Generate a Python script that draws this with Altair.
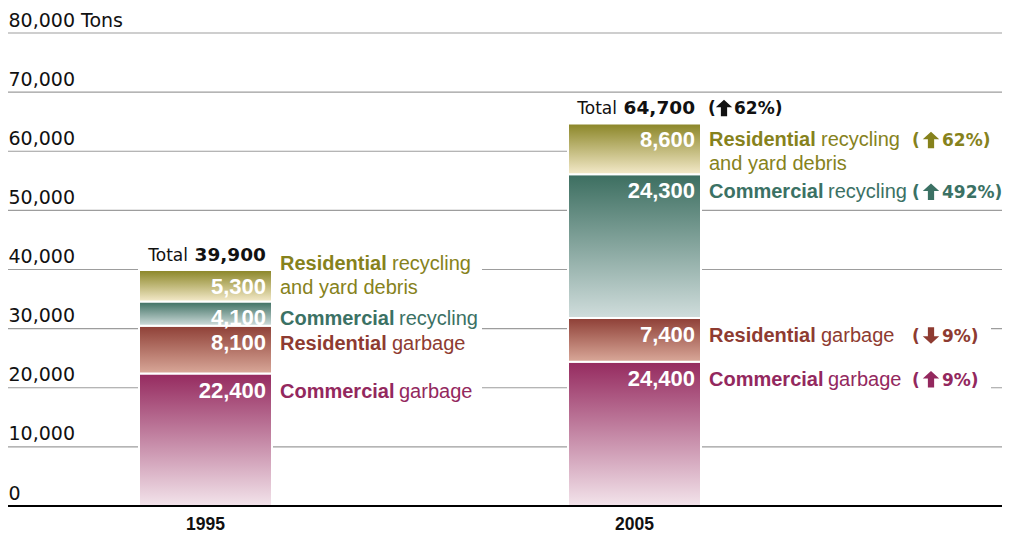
import altair as alt
import pandas as pd

# ---------------- data ----------------
years = ["1995", "2005"]
categories = [
    "Commercial garbage",
    "Residential garbage",
    "Commercial recycling",
    "Residential recycling and yard debris",
]
tons_1995 = [22400, 8100, 4100, 5300]
tons_2005 = [24400, 7400, 24300, 8600]
dir_1995 = ["", "", "", ""]
pct_1995 = ["", "", "", ""]
dir_2005 = ["up", "down", "up", "up"]
pct_2005 = ["9%", "9%", "492%", "62%"]
total_dir = ["", "up"]
total_pct = ["", "62%"]
y_ticks = [0, 10000, 20000, 30000, 40000, 50000, 60000, 70000, 80000]

# ---------------- styles ----------------
top_colors = ["#952a5f", "#8e3f36", "#3c6e60", "#8a8526"]
bottom_colors = ["#f3e4eb", "#d9a899", "#d0dddc", "#f4eaca"]
text_colors = ["#93285e", "#8e3b31", "#3b7164", "#86821c"]
OLIVE = categories[3]
ARROW_UP = "M0,-1 L1,-0.1 L0.38,-0.1 L0.38,1 L-0.38,1 L-0.38,-0.1 L-1,-0.1 Z"
ARROW_DOWN = "M0,1 L1,0.1 L0.38,0.1 L0.38,-1 L-0.38,-1 L-0.38,0.1 L-1,0.1 Z"

rows = []
for yr, vals, dirs, pcts in [("1995", tons_1995, dir_1995, pct_1995),
                             ("2005", tons_2005, dir_2005, pct_2005)]:
    for i, (c, v, d, p) in enumerate(zip(categories, vals, dirs, pcts)):
        w = c.split(" ")
        rows.append(dict(year=yr, cat=c, order=i, tons=v, dir=d, pct=p,
                         bold=w[0], rest=w[1], line2=" ".join(w[2:])))
df = pd.DataFrame(rows)
tot_df = pd.DataFrame({"year": years, "tdir": total_dir, "tpct": total_pct})

W, H = 994, 473
xscale = alt.Scale(domain=years, range=[131, 693], paddingInner=0.69, paddingOuter=0)
yscale = alt.Scale(domain=[0, 80000], nice=False, zero=True)
shape_scale = alt.Scale(domain=["up", "down"], range=[ARROW_UP, ARROW_DOWN])

xaxis = alt.Axis(title=None, domain=False, ticks=False, tickSize=0, grid=False,
                 labelPadding=23, labelBaseline="alphabetic", labelAngle=0,
                 labelFont="Liberation Sans", labelFontWeight="bold",
                 labelFontSize=17.5, labelColor="#111")
yaxis = alt.Axis(values=y_ticks, title=None, domain=False, ticks=False, tickSize=0,
                 labelAlign="left", labelBaseline="alphabetic", labelPadding=0,
                 labelOffset=-7, labelFont="DejaVu Sans", labelFontSize=19,
                 labelColor="#111", labelOverlap=False, grid=False,
                 labelExpr="datum.value === 80000 ? format(datum.value, ',') + ' Tons' : format(datum.value, ',')")


def X(bp=None):
    if bp is None:
        return alt.X("year:N", scale=xscale, axis=xaxis)
    return alt.X("year:N", scale=xscale, axis=xaxis, bandPosition=bp)


def Y(f):
    return alt.Y(f, scale=yscale, axis=yaxis)


tcolor = alt.Color("cat:N", scale=alt.Scale(domain=categories, range=text_colors), legend=None)

base = alt.Chart(df).transform_stack(
    stack="tons", groupby=["year"], as_=["y0", "y1"],
    sort=[alt.SortField("order", order="ascending")])

layers = []

# gridlines (full width)
layers.append(
    alt.Chart(pd.DataFrame({"v": y_ticks[1:]}))
    .mark_rule(color="#9d9d9d", strokeWidth=1.2)
    .encode(y=Y("v:Q"))
)

# bars with vertical gradients
for i, cat in enumerate(categories):
    grad = alt.LinearGradient(
        gradient="linear",
        stops=[alt.GradientStop(color=top_colors[i], offset=0),
               alt.GradientStop(color=bottom_colors[i], offset=1)],
        x1=1, x2=1, y1=0, y2=1)
    layers.append(
        base.transform_filter(alt.datum.cat == cat)
        .mark_bar(color=grad, stroke="white", strokeWidth=2)
        .encode(x=X(), y=Y("y0:Q"), y2="y1:Q")
    )

# baseline
layers.append(
    alt.Chart(pd.DataFrame({"v": y_ticks[:1]}))
    .mark_rule(color="#000", strokeWidth=2)
    .encode(y=Y("v:Q"))
)

# white masks behind labels (interrupt gridlines)
mask_specs = [
    ("datum.year == '1995' && datum.cat != '%s'" % OLIVE, 7, 30, 210),
    ("datum.year == '1995' && datum.cat == '%s'" % OLIVE, -17, 29, 210),
    ("datum.year == '2005' && datum.cat != '%s'" % OLIVE, 7, 30, 290),
    ("datum.year == '2005' && datum.cat == '%s'" % OLIVE, 6, 53, 305),
]
for flt, yo, y2o, x2o in mask_specs:
    layers.append(
        base.transform_filter(flt)
        .mark_rect(color="white", xOffset=1, x2Offset=x2o, yOffset=yo, y2Offset=y2o)
        .encode(x=X(1), x2=alt.X2("year", bandPosition=1), y=Y("y1:Q"), y2="y1:Q")
    )

# value labels inside bars
layers.append(
    base.mark_text(align="right", baseline="alphabetic", dx=-6, dy=24,
                   font="Liberation Sans", fontWeight="bold", fontSize=22, color="white")
    .encode(x=X(1), y=Y("y1:Q"), text=alt.Text("tons:Q", format=","))
)

# category labels
groups = [
    ("datum.cat != '%s'" % OLIVE, 24),
    ("datum.cat == '%s' && datum.year == '1995'" % OLIVE, 0),
    ("datum.cat == '%s' && datum.year == '2005'" % OLIVE, 23),
]
lab_font = "Liberation Sans"
lab_size = 20
pct_font = "DejaVu Sans"
for flt, dy in groups:
    g = base.transform_filter(flt)
    layers.append(
        g.mark_text(align="left", baseline="alphabetic", dx=8, dy=dy,
                    font=lab_font, fontWeight="bold", fontSize=lab_size)
        .encode(x=X(1), y=Y("y1:Q"), text="bold:N", color=tcolor)
    )
    for word, dx in [("Residential", 120), ("Commercial", 127)]:
        layers.append(
            g.transform_filter(alt.datum.bold == word)
            .mark_text(align="left", baseline="alphabetic", dx=dx, dy=dy,
                       font=lab_font, fontWeight="normal", fontSize=lab_size)
            .encode(x=X(1), y=Y("y1:Q"), text="rest:N", color=tcolor)
        )
    layers.append(
        g.transform_filter("datum.line2 != ''")
        .mark_text(align="left", baseline="alphabetic", dx=8, dy=dy + 23.5,
                   font=lab_font, fontWeight="normal", fontSize=lab_size)
        .encode(x=X(1), y=Y("y1:Q"), text="line2:N", color=tcolor)
    )
    # percent changes: "(" arrow "nn%)"
    gp = g.transform_filter("datum.pct != ''")
    layers.append(
        gp.mark_text(align="left", baseline="alphabetic", dx=211, dy=dy,
                     font=pct_font, fontWeight="bold", fontSize=17)
        .encode(x=X(1), y=Y("y1:Q"), text=alt.value("("), color=tcolor)
    )
    layers.append(
        gp.mark_point(filled=True, size=270, opacity=1, strokeWidth=0,
                      xOffset=230, yOffset=dy - 6.5)
        .encode(x=X(1), y=Y("y1:Q"),
                shape=alt.Shape("dir:N", scale=shape_scale, legend=None),
                color=tcolor)
    )
    layers.append(
        gp.transform_calculate(pt="datum.pct + ')'")
        .mark_text(align="left", baseline="alphabetic", dx=241, dy=dy,
                   font=pct_font, fontWeight="bold", fontSize=17)
        .encode(x=X(1), y=Y("y1:Q"), text="pt:N", color=tcolor)
    )

# totals
tot = base.transform_aggregate(total="sum(tons)", groupby=["year"]).transform_lookup(
    lookup="year", from_=alt.LookupData(data=tot_df, key="year", fields=["tdir", "tpct"]))
layers.append(
    tot.mark_text(align="right", baseline="alphabetic", dx=-6, dy=-9,
                  font="DejaVu Sans", fontWeight="bold", fontSize=18.5, color="#111")
    .encode(x=X(1), y=Y("total:Q"), text=alt.Text("total:Q", format=","))
)
layers.append(
    tot.mark_text(align="right", baseline="alphabetic", dx=-84, dy=-9,
                  font="DejaVu Sans", fontSize=17, color="#111")
    .encode(x=X(1), y=Y("total:Q"), text=alt.value("Total"))
)
tch = tot.transform_filter("datum.tpct != ''")
layers.append(
    tch.mark_text(align="left", baseline="alphabetic", dx=7, dy=-9,
                  font=pct_font, fontWeight="bold", fontSize=17, color="#111")
    .encode(x=X(1), y=Y("total:Q"), text=alt.value("("))
)
layers.append(
    tch.mark_point(filled=True, size=270, opacity=1, strokeWidth=0, color="#111",
                   xOffset=23, yOffset=-15.5)
    .encode(x=X(1), y=Y("total:Q"),
            shape=alt.Shape("tdir:N", scale=shape_scale, legend=None))
)
layers.append(
    tch.transform_calculate(tc="datum.tpct + ')'")
    .mark_text(align="left", baseline="alphabetic", dx=33, dy=-9,
               font=pct_font, fontWeight="bold", fontSize=17, color="#111")
    .encode(x=X(1), y=Y("total:Q"), text="tc:N")
)

chart = alt.layer(*layers).properties(
    width=W, height=H,
    autosize=alt.AutoSizeParams(type="none"),
    padding={"left": 0, "right": 0, "top": 25, "bottom": 26},
    background="white",
).configure_view(stroke=None)

chart.save("out.html", embed_options={"renderer": "svg", "actions": False})
